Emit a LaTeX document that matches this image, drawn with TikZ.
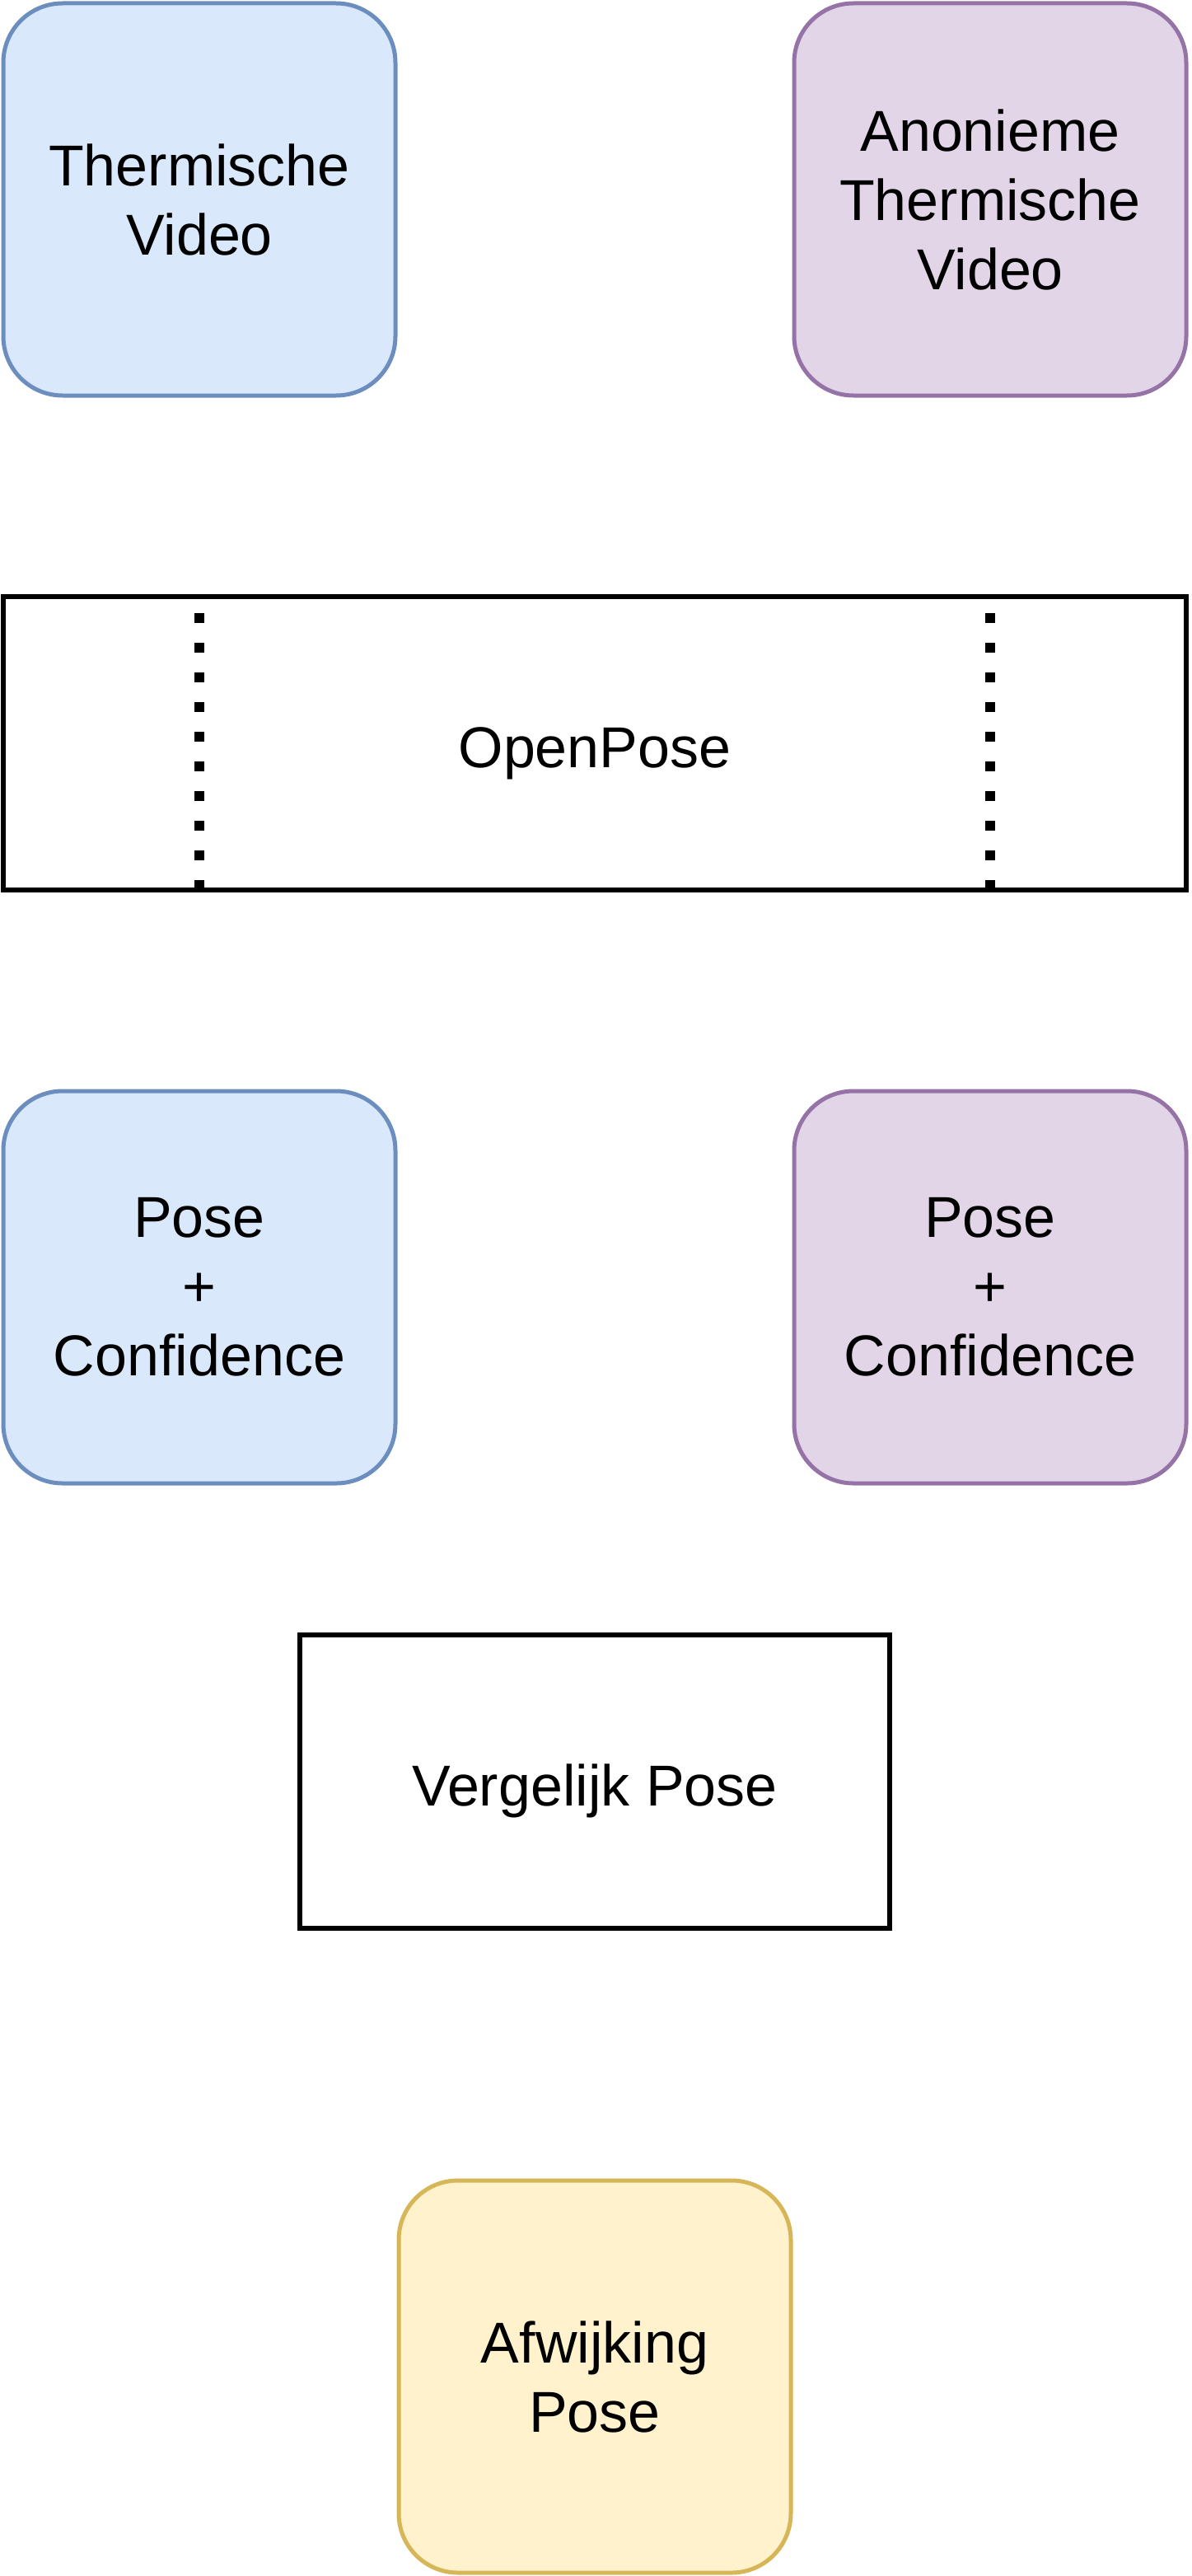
\documentclass[tikz,border=0pt]{standalone}
\usepackage{fontspec}
\setmainfont{Liberation Sans}
\usepackage{tikz}
\usetikzlibrary{positioning}
\definecolor{blueFill}{HTML}{DAE8FC}
\definecolor{blueLine}{HTML}{6C8EBF}
\definecolor{purpleFill}{HTML}{E1D5E7}
\definecolor{purpleLine}{HTML}{9673A6}
\definecolor{yellowFill}{HTML}{FFF2CC}
\definecolor{yellowLine}{HTML}{D6B656}
\tikzstyle{card} = [rectangle, rounded corners=36pt, line width=2.5pt, minimum width=238pt, minimum height=238pt, align=center, font=\fontsize{35}{42}\selectfont]
\tikzstyle{thermal} = [card, draw=blueLine, fill=blueFill]
\tikzstyle{anon} = [card, draw=purpleLine, fill=purpleFill]
\tikzstyle{result} = [card, draw=yellowLine, fill=yellowFill]
\tikzstyle{block} = [draw, rectangle, line width=3pt, text height=29pt, text depth=0pt, font=\fontsize{35}{42}\selectfont]
\tikzstyle{sep} = [line width=6pt, dash pattern=on 6pt off 12pt]

\begin{document}
\begin{tikzpicture}[node distance=480pt]

\useasboundingbox (0,0) rectangle (723pt,-1563pt);

\node [thermal] at (121pt,-121pt) (video) {Thermische\\Video};
\node [anon, right of=video] (anonvideo) {Anonieme\\Thermische\\Video};
\node [block, below of=video, node distance=330pt, xshift=240pt, minimum width=718pt, minimum height=178pt] (openpose) {OpenPose};
\node [thermal, below of=video, node distance=660pt] (pose) {Pose\\+\\Confidence};
\node [anon, right of=pose] (anonpose) {Pose\\+\\Confidence};
\node [block, below of=openpose, node distance=630pt, minimum width=358pt, minimum height=178pt] (compare) {Vergelijk Pose};
\node [result, below of=compare, node distance=361pt] (deviation) {Afwijking\\Pose};

\node [coordinate, below of=video, node distance=251pt] (sepL) {};
\node [coordinate, below of=anonvideo, node distance=251pt] (sepR) {};

\draw [sep] (sepL) -- (sepL |- openpose.south);
\draw [sep] (sepR) -- (sepR |- openpose.south);

\end{tikzpicture}
\end{document}
